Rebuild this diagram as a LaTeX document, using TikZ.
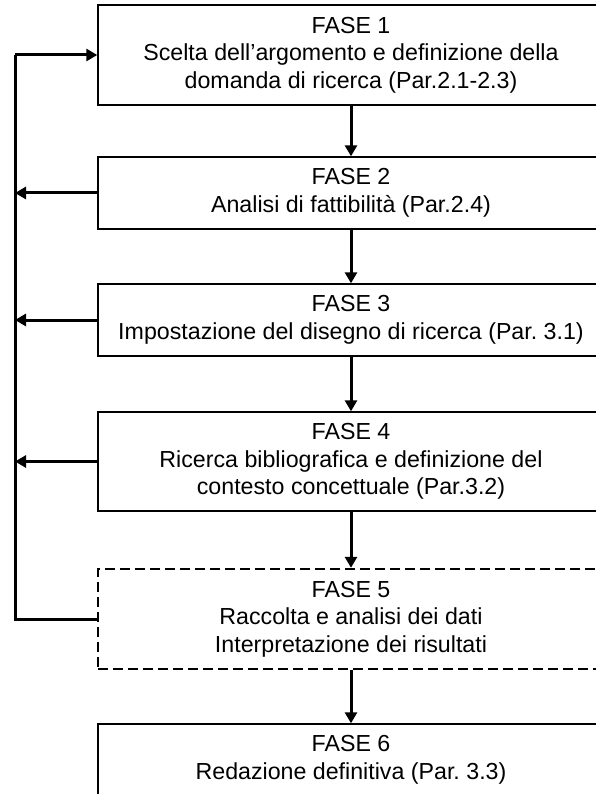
\documentclass[tikz,border=0pt]{standalone}
\usepackage{fontspec}
\setmainfont{Liberation Sans}
\frenchspacing
\usetikzlibrary{arrows.meta,calc}
\tikzset{
    fase/.style={draw, line width=1.4pt, minimum width=506pt, inner sep=0pt, align=center,
                 font=\fontsize{23.2}{27.5}\selectfont},
    fasetratt/.style={fase, line width=2.4pt, dash pattern=on 10pt off 5pt},
    freccia/.style={line width=3pt, -{Triangle[length=11pt,width=12pt]}},
    ritorno/.style={line width=3pt},
  }
\begin{document}
\begin{tikzpicture}[x=1pt,y=1pt]
  \useasboundingbox (0,0) rectangle (595,-794);
  %fasi
  \node[fase, minimum height=100pt] (f1) at (351,-55) {FASE 1\\Scelta dell’argomento e definizione della\\domanda di ricerca (Par.2.1-2.3)};
  \node[fase, minimum height=72pt] (f2) at (351,-193) {FASE 2\\Analisi di fattibilità (Par.2.4)};
  \node[fase, minimum height=72pt] (f3) at (351,-320) {FASE 3\\Impostazione del disegno di ricerca (Par. 3.1)};
  \node[fase, minimum height=99pt] (f4) at (351,-461.5) {FASE 4\\Ricerca bibliografica e definizione del\\contesto concettuale (Par.3.2)};
  \node[fasetratt, minimum height=100pt] (f5) at (351,-619) {FASE 5\\Raccolta e analisi dei dati\\Interpretazione dei risultati};
  \node[fase, minimum height=72pt] (f6) at (351,-760) {FASE 6\\Redazione definitiva (Par. 3.3)};
  %binario di ritorno
  \coordinate (rail) at (15,0);
  %frecce in giu
  \draw[freccia] (f1) -- (f2);
  \draw[freccia] (f2) -- (f3);
  \draw[freccia] (f3) -- (f4);
  \draw[freccia] (f4) -- (f5);
  \draw[freccia] (f5) -- (f6);
  %ritorno
  \draw[ritorno] (f5.west) -- (f5.west -| rail) -- (f1.west -| rail);
  \draw[freccia] (f1.west -| rail) -- (f1.west);
  \draw[freccia] (f2.west) -- (f2.west -| rail);
  \draw[freccia] (f3.west) -- (f3.west -| rail);
  \draw[freccia] (f4.west) -- (f4.west -| rail);
\end{tikzpicture}
\end{document}
